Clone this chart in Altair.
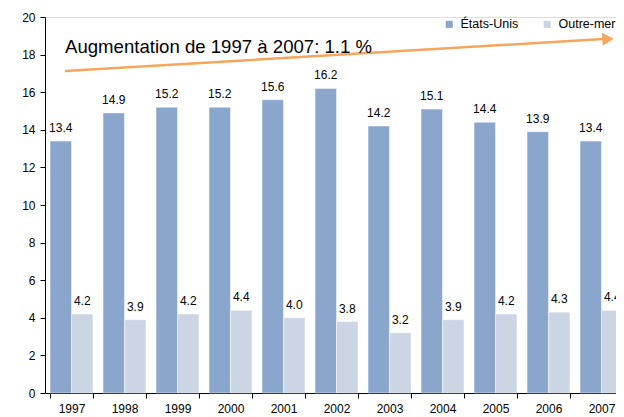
import altair as alt
import pandas as pd

years = ["1997", "1998", "1999", "2000", "2001", "2002", "2003", "2004", "2005", "2006", "2007"]
us_values = [13.4, 14.9, 15.2, 15.2, 15.6, 16.2, 14.2, 15.1, 14.4, 13.9, 13.4]
om_values = [4.2, 3.9, 4.2, 4.4, 4.0, 3.8, 3.2, 3.9, 4.2, 4.3, 4.4]
series = ["États-Unis", "Outre-mer"]
colors = ["#8AA6CD", "#CBD5E3"]
annotation = "Augmentation de 1997 à 2007: 1.1 %"

rows = []
for y, u, o in zip(years, us_values, om_values):
    rows.append({"year": y, "series": series[0], "value": u})
    rows.append({"year": y, "series": series[1], "value": o})
df = pd.DataFrame(rows)

FONT = "Liberation Sans"
W, H = 571, 376

x_enc = alt.X("year:N", sort=years, title=None,
              scale=alt.Scale(range=[0, 583], paddingInner=0.19, paddingOuter=0.095),
              axis=alt.Axis(labelAngle=0, tickBand="extent", labelPadding=5))
y_enc = alt.Y("value:Q", title=None,
              scale=alt.Scale(domain=[0, 20], nice=False),
              axis=alt.Axis(values=list(range(0, 21, 2)), grid=False,
                            labelOverlap=False, labelFlush=False))
xoff = alt.XOffset("series:N", sort=series, scale=alt.Scale(paddingInner=0.0))

base = alt.Chart(df)

bars = base.mark_bar(stroke="white", strokeWidth=0.8, strokeOpacity=0.6).encode(
    x=x_enc, y=y_enc, xOffset=xoff,
    color=alt.Color("series:N", sort=series,
                    scale=alt.Scale(domain=series, range=colors),
                    legend=alt.Legend(title=None, orient="none", direction="horizontal",
                                      legendX=398, legendY=1, symbolType="square",
                                      symbolSize=50, symbolStrokeWidth=0,
                                      labelFontSize=12.5, labelFont=FONT,
                                      labelColor="black", columnPadding=22,
                                      labelOffset=5)),
)

labels = base.mark_text(baseline="alphabetic", dy=-9, fontSize=12, font=FONT, color="black").encode(
    x=x_enc, y=y_enc, xOffset=xoff,
    text=alt.Text("value:Q", format=".1f"),
)

one = alt.Data(values=[{"a": 1}])
arrow_line = alt.Chart(one).mark_rule(color="#F5A55C", strokeWidth=2.5).encode(
    x=alt.value(20), y=alt.value(54), x2=alt.value(558), y2=alt.value(22))
arrow_head = alt.Chart(one).mark_point(shape="triangle-right", filled=True, size=170,
                                       color="#F5A55C", opacity=1, angle=356.6).encode(
    x=alt.value(563), y=alt.value(22))
title_txt = alt.Chart(alt.Data(values=[{"t": annotation}])).mark_text(
    align="left", baseline="middle", fontSize=18.6, font=FONT, color="black").encode(
    x=alt.value(20), y=alt.value(30), text="t:N")

chart = alt.layer(bars, labels, arrow_line, arrow_head, title_txt).properties(
    width=W, height=H,
    autosize=alt.AutoSizeParams(type="none"),
    padding={"left": 37, "top": 9, "right": 0, "bottom": 24},
).configure_view(stroke=None).configure(font=FONT).configure_axis(
    domainColor="black", tickColor="black", tickSize=5, labelFontSize=12,
    labelColor="black", labelPadding=5, labelFont=FONT, labelOverlap=False,
    grid=False,
)

chart.save("out.html", embed_options={"renderer": "svg", "actions": False})
